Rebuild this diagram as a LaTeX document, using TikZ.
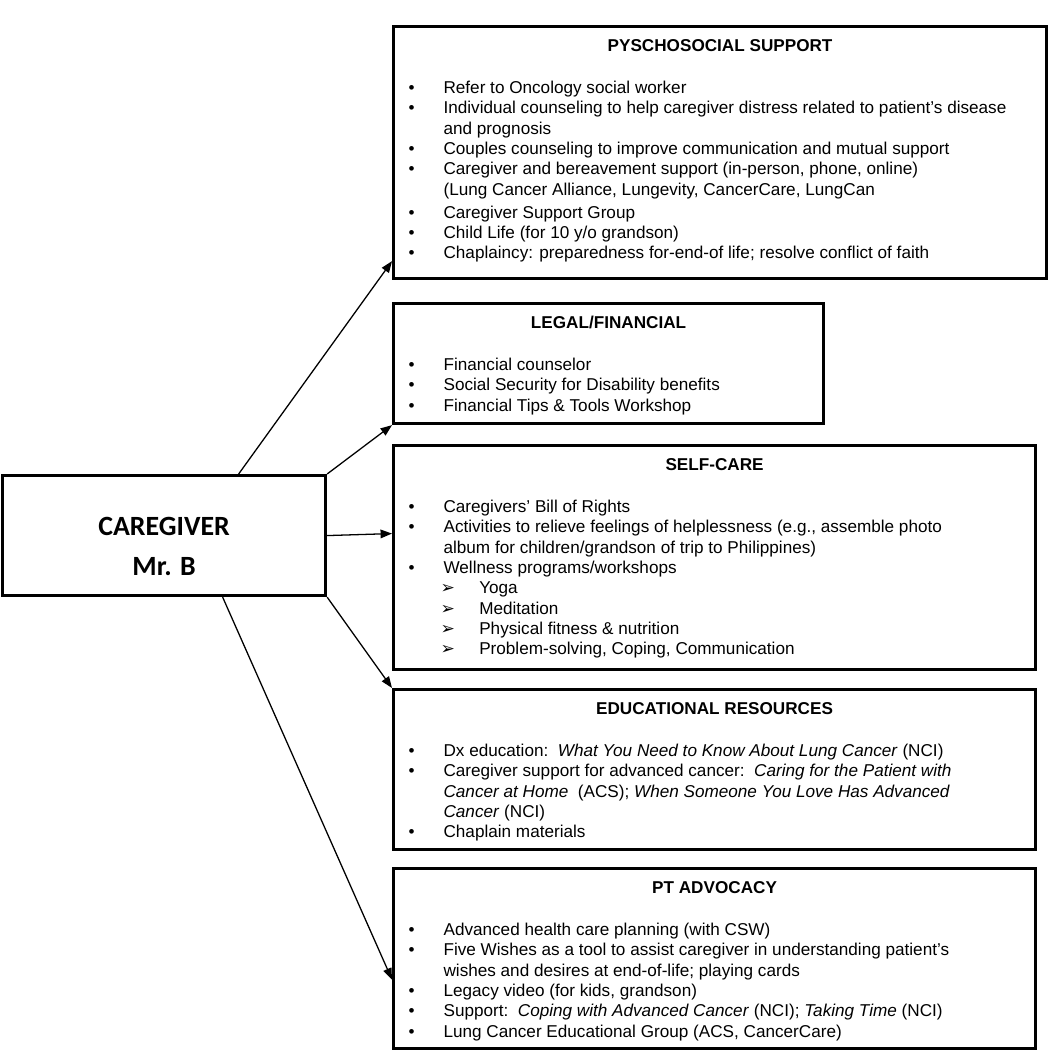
\documentclass[tikz,border=0pt]{standalone}
\usepackage{fontspec}
\setmainfont{Liberation Sans}
\newfontfamily\cgfont{Carlito}
\newfontfamily\dingfont{DejaVu Sans}
\usetikzlibrary{arrows.meta}

% box contents
\newcommand{\phead}[1]{{\centering\bfseries\rule{0pt}{17.5pt}#1\par}\vspace{15.2pt}}
\newcommand{\bitem}[1]{\par\hangindent=35pt\hangafter=1\noindent\makebox[35pt][l]{\hspace{10.5pt}\textbullet}#1}
\newcommand{\sitem}[1]{\par\hangindent=60pt\hangafter=1\noindent\makebox[60pt][l]{\hspace{33pt}{\dingfont ➢}}#1}
\newcommand{\pbox}[3]{\parbox[c][#2][t]{#1}{\fontsize{12}{14.2}\selectfont\raggedright #3}}

\begin{document}
\begin{tikzpicture}[x=0.7pt,y=-0.7pt,
            panel/.style={draw,line width=2.2pt,inner sep=0pt,anchor=north west},
            link/.style={line width=0.9pt,-{Triangle[length=8pt,width=6pt]}}]
            \useasboundingbox (0,0) rectangle (1049,1050);

            \node (cg) at (1,474) [panel] {\parbox[c][84pt][t]{226.1pt}{\centering\cgfont\bfseries\fontsize{19.5}{28}\selectfont\rule{0pt}{41.7pt}CAREGIVER\\Mr. B}};

            \node (ps) at (392,25) [panel] {\pbox{457.1pt}{176.4pt}{\phead{PYSCHOSOCIAL SUPPORT}
                \bitem{Refer to Oncology social worker}
                \bitem{Individual counseling to help caregiver distress related to patient’s disease\newline and prognosis}
                \bitem{Couples counseling to improve communication and mutual support}
                \bitem{Caregiver and bereavement support (in-person, phone, online)\newline (Lung Cancer Alliance, Lungevity, CancerCare, LungCan\par}\vspace{2pt}
                \bitem{Caregiver Support Group}
                \bitem{Child Life (for 10 y/o grandson)}
                \bitem{Chaplaincy: preparedness for-end-of life; resolve conflict of faith}}};

            \node (lf) at (392,302) [panel] {\pbox{301pt}{84pt}{\phead{LEGAL/FINANCIAL}
                \bitem{Financial counselor}
                \bitem{Social Security for Disability benefits}
                \bitem{Financial Tips \& Tools Workshop}}};

            \node (sc) at (392,444) [panel] {\pbox{449.4pt}{156.8pt}{\phead{SELF-CARE}
                \bitem{Caregivers’ Bill of Rights}
                \bitem{Activities to relieve feelings of helplessness (e.g., assemble photo\newline album for children/grandson of trip to Philippines)}
                \bitem{Wellness programs/workshops}
                \sitem{Yoga}
                \sitem{Meditation}
                \sitem{Physical fitness \& nutrition}
                \sitem{Problem-solving, Coping, Communication}}};

            \node (ed) at (392,688) [panel] {\pbox{449.4pt}{112pt}{\phead{EDUCATIONAL RESOURCES}
                \bitem{Dx education:~~\textit{What You Need to Know About Lung Cancer} (NCI)}
                \bitem{Caregiver support for advanced cancer:~~\textit{Caring for the Patient with}\newline \textit{Cancer at Home}~~(ACS); \textit{When Someone You Love Has Advanced}\newline \textit{Cancer} (NCI)}
                \bitem{Chaplain materials}}};

            \node (pt) at (392,867) [panel] {\pbox{449.4pt}{126pt}{\phead{PT ADVOCACY}
                \bitem{Advanced health care planning (with CSW)}
                \bitem{Five Wishes as a tool to assist caregiver in understanding patient’s\newline wishes and desires at end-of-life; playing cards}
                \bitem{Legacy video (for kids, grandson)}
                \bitem{Support:~~\textit{Coping with Advanced Cancer} (NCI); \textit{Taking Time} (NCI)}
                \bitem{Lung Cancer Educational Group (ACS, CancerCare)}}};

            \draw[link] ([xshift=52.2pt]cg.north) -- ([yshift=13.3pt]ps.south west);
            \draw[link] (cg.north east) -- (lf.south west);
            \draw[link] (cg.east) -- ([yshift=16.8pt]sc.west);
            \draw[link] (cg.south east) -- (ed.north west);
            \draw[link] ([xshift=41pt]cg.south) -- ([yshift=-14.7pt]pt.west);
        \end{tikzpicture}
\end{document}
